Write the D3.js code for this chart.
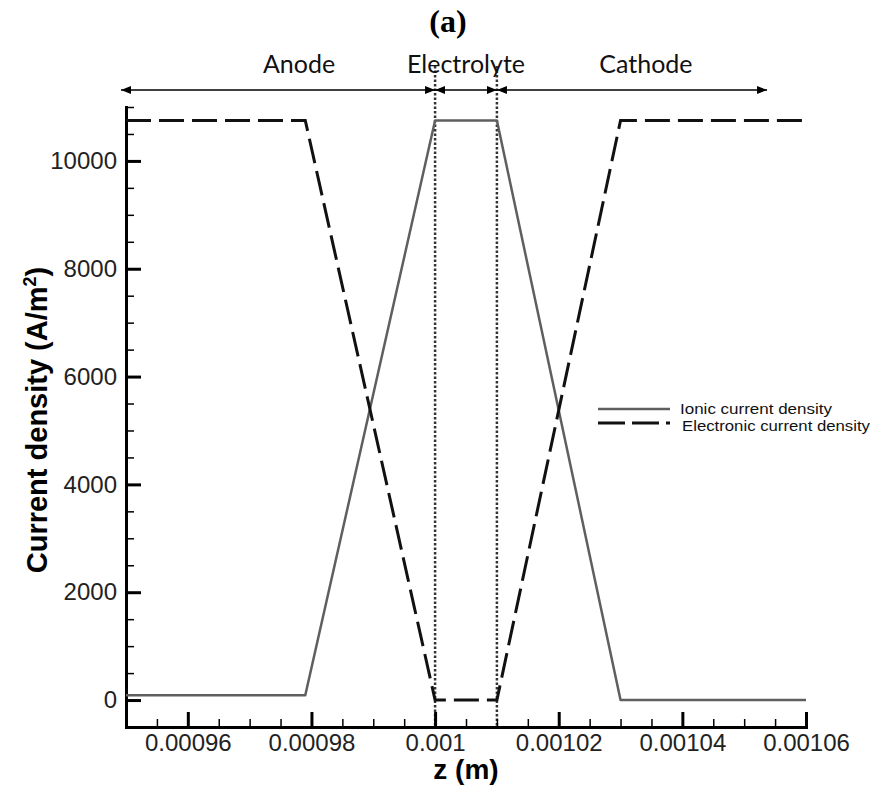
<!DOCTYPE html>
<html>
<head>
<meta charset="utf-8">
<script src="https://cdn.jsdelivr.net/npm/d3@7"></script>
<style>
  body { margin: 0; background: #fff; }
  svg { display: block; }
</style>
</head>
<body>
<svg id="chart" width="878" height="786"></svg>
<script>
// Axial position through the cell (m)
const z = [0.00095, 0.000979, 0.001, 0.00101, 0.00103, 0.00106];
// Current densities (A/m^2)
const ionic = [90, 90, 10750, 10750, 0, 0];
const electronic = [10750, 10750, 0, 0, 10750, 10750];

// Axis tick labels
const zTicks = [0.00096, 0.00098, 0.001, 0.00102, 0.00104, 0.00106];
const jTicks = [0, 2000, 4000, 6000, 8000, 10000];

// Layer boundaries and layer annotations
const boundaries = [0.001, 0.00101];
const layers = [
  { name: "Anode",       from: 0.0009492, to: 0.001,     labelAt: 0.000978 },
  { name: "Electrolyte", from: 0.001,     to: 0.00101,   labelAt: 0.001005 },
  { name: "Cathode",     from: 0.00101,   to: 0.0010537, labelAt: 0.0010341 }
];

const seriesNames = ["Ionic current density", "Electronic current density"];

const svg = d3.select("#chart");
const x = d3.scaleLinear().domain([0.00095, 0.00106]).range([126, 806]);
const y = d3.scaleLinear().domain([-500, 11000]).range([727, 107]);

const sans = "'Liberation Sans', Arial, Helvetica, sans-serif";

// Arrowhead marker
svg.append("defs").append("marker")
  .attr("id", "head")
  .attr("viewBox", "0 0 10 8")
  .attr("refX", 10).attr("refY", 4)
  .attr("markerWidth", 10).attr("markerHeight", 8)
  .attr("markerUnits", "userSpaceOnUse")
  .attr("orient", "auto-start-reverse")
  .append("path").attr("d", "M0,0L10,4L0,8Z").attr("fill", "#000");

// Title
svg.append("text")
  .attr("x", 448).attr("y", 32)
  .attr("text-anchor", "middle")
  .attr("font-family", "'Liberation Serif', 'Times New Roman', serif")
  .attr("font-weight", "bold").attr("font-size", 32)
  .text("(a)");

// Layer boundaries (dotted)
const arrowY = 90;
svg.append("g").selectAll("line").data(boundaries).join("line")
  .attr("x1", d => x(d)).attr("x2", d => x(d))
  .attr("y1", arrowY - 24).attr("y2", y(-500))
  .attr("stroke", "#333").attr("stroke-width", 2.5)
  .attr("stroke-dasharray", "2.5,2");

// Layer arrows and names
const ann = svg.append("g");
ann.selectAll("line").data(layers).join("line")
  .attr("x1", d => x(d.from)).attr("x2", d => x(d.to))
  .attr("y1", arrowY).attr("y2", arrowY)
  .attr("stroke", "#000").attr("stroke-width", 1.5)
  .attr("marker-start", "url(#head)").attr("marker-end", "url(#head)");
ann.selectAll("text").data(layers).join("text")
  .attr("x", d => x(d.labelAt)).attr("y", 73)
  .attr("text-anchor", "middle")
  .attr("font-family", "Lato, 'Open Sans', sans-serif")
  .attr("font-size", 25)
  .attr("fill", "#111")
  .text(d => d.name);

// Axes: minor ticks
const minorX = d3.axisBottom(x).ticks(22).tickSize(-8).tickSizeOuter(0).tickFormat("");
const minorY = d3.axisLeft(y).ticks(23).tickSize(-8).tickSizeOuter(0).tickFormat("");
svg.append("g").attr("transform", `translate(0,${y(-500)})`).call(minorX)
  .call(g => g.select(".domain").remove())
  .call(g => g.selectAll("line").attr("stroke", "#000").attr("stroke-width", 1.5));
svg.append("g").attr("transform", `translate(${x(0.00095)},0)`).call(minorY)
  .call(g => g.select(".domain").remove())
  .call(g => g.selectAll("line").attr("stroke", "#000").attr("stroke-width", 1.5));

// Axes: major ticks with labels
const majorX = d3.axisBottom(x).tickValues(zTicks).tickSize(-15).tickSizeOuter(0)
  .tickPadding(7).tickFormat(d => String(d));
const majorY = d3.axisLeft(y).tickValues(jTicks).tickSize(-15).tickSizeOuter(0)
  .tickPadding(9).tickFormat(d => String(d));

const gx = svg.append("g").attr("transform", `translate(0,${y(-500)})`).call(majorX);
const gy = svg.append("g").attr("transform", `translate(${x(0.00095)},0)`).call(majorY);
[gx, gy].forEach(g => {
  g.select(".domain").attr("stroke", "#000").attr("stroke-width", 3)
    .attr("stroke-linecap", "square");
  g.selectAll(".tick line").attr("stroke", "#000").attr("stroke-width", 3);
  g.selectAll(".tick text").attr("font-family", sans).attr("font-size", 24)
    .attr("fill", "#222");
});

// Series
const line = d3.line().x(d => x(d[0])).y(d => y(d[1]));
svg.append("path")
  .datum(d3.zip(z, ionic))
  .attr("d", line)
  .attr("fill", "none").attr("stroke", "#5f5f5f").attr("stroke-width", 2.5)
  .attr("stroke-linejoin", "round");
svg.append("path")
  .datum(d3.zip(z, electronic))
  .attr("d", line)
  .attr("fill", "none").attr("stroke", "#111").attr("stroke-width", 3)
  .attr("stroke-dasharray", "25,8");

// Axis titles
svg.append("text")
  .attr("x", 466).attr("y", 779)
  .attr("text-anchor", "middle")
  .attr("font-family", sans).attr("font-weight", "bold").attr("font-size", 28)
  .text("z (m)");
const yt = svg.append("text")
  .attr("transform", "translate(47,420) rotate(-90)")
  .attr("text-anchor", "middle")
  .attr("font-family", sans).attr("font-weight", "bold").attr("font-size", 29);
yt.append("tspan").text("Current density (A/m");
yt.append("tspan").attr("font-size", 18).attr("dy", -11).text("2");
yt.append("tspan").attr("dy", 11).text(")");

// Legend
const legend = svg.append("g").attr("transform", "translate(598,409)");
const styles = [
  { stroke: "#5f5f5f", width: 2.5, dash: null, textY: 5 },
  { stroke: "#111", width: 3, dash: "27,7", textY: 7.5 }
];
seriesNames.forEach((name, i) => {
  const row = legend.append("g").attr("transform", `translate(0,${i * 14})`);
  row.append("line").attr("x1", 0).attr("x2", 72).attr("y1", 0).attr("y2", 0)
    .attr("stroke", styles[i].stroke).attr("stroke-width", styles[i].width)
    .attr("stroke-dasharray", styles[i].dash);
  row.append("text").attr("x", 82 + i * 2).attr("y", styles[i].textY)
    .attr("font-family", sans).attr("font-size", 14).attr("fill", "#111")
    .attr("textLength", i === 0 ? 152 : 188).attr("lengthAdjust", "spacingAndGlyphs")
    .text(name);
});
</script>
</body>
</html>
